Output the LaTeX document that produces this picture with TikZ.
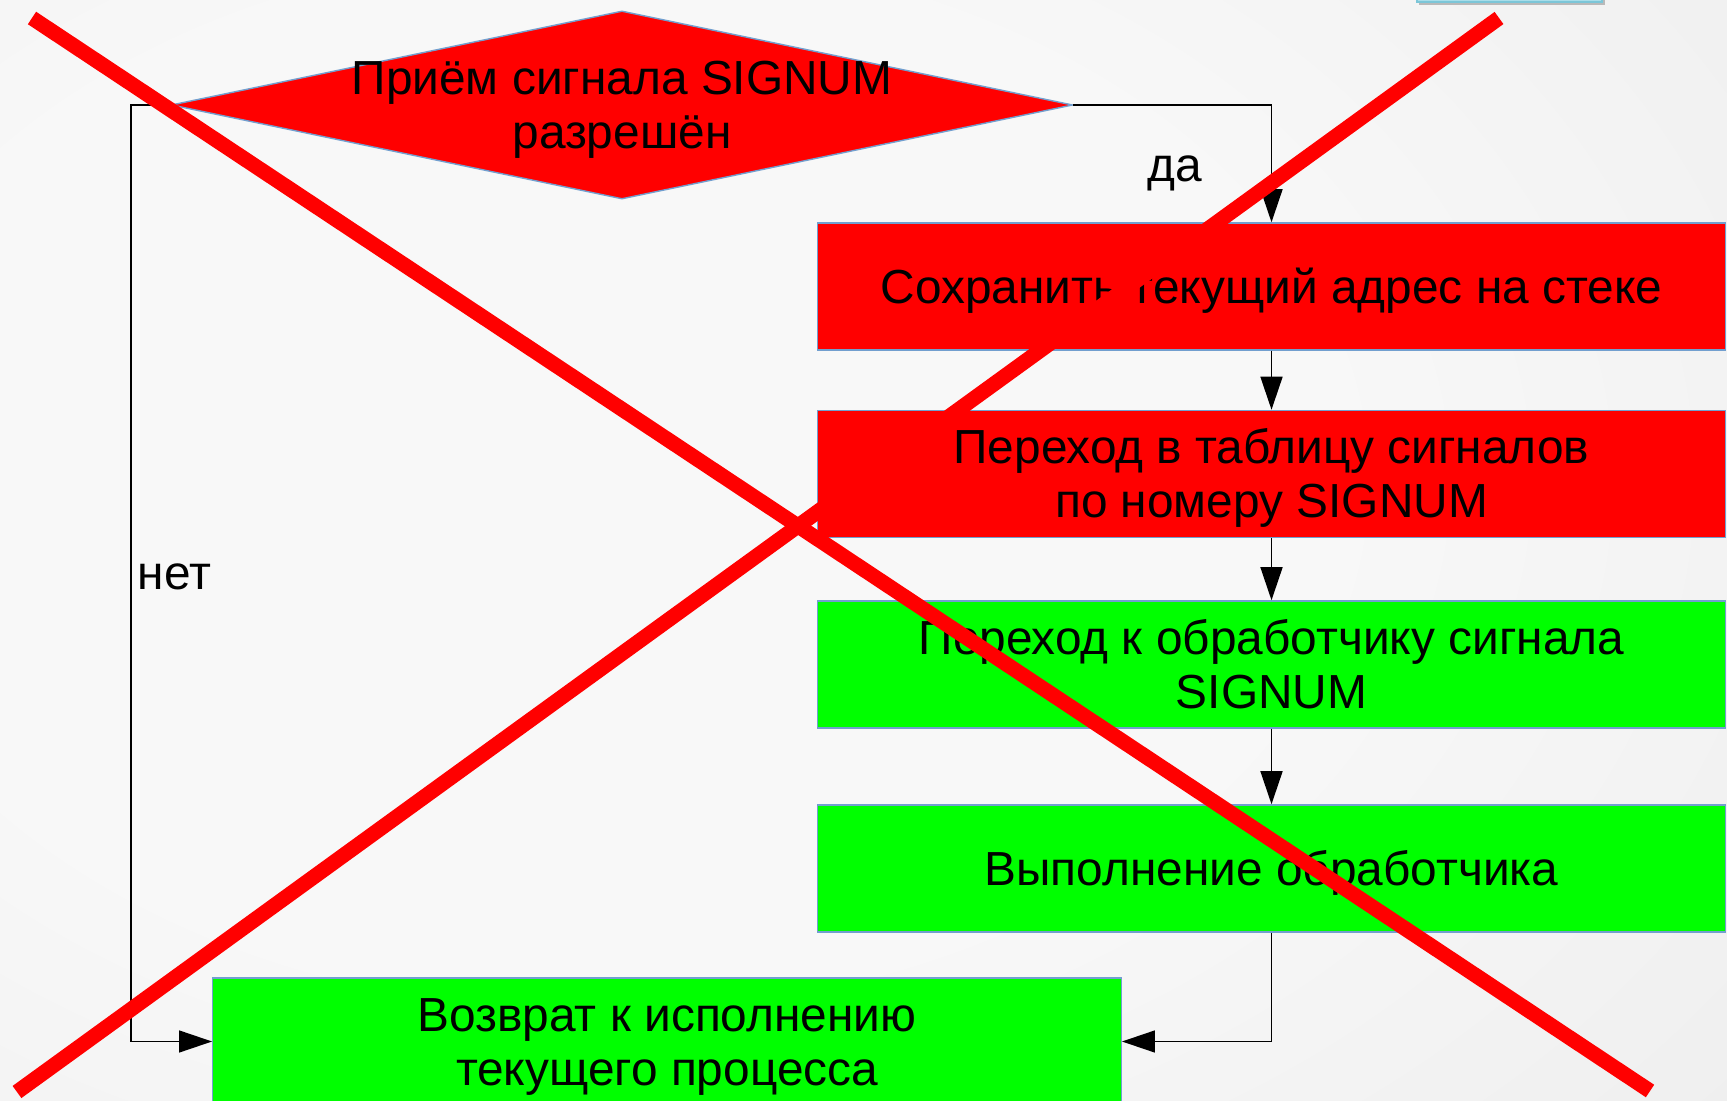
\documentclass[tikz,border=0pt]{standalone}
\usepackage{fontspec}
\setmainfont{Liberation Sans}
\usetikzlibrary{shapes.geometric,arrows.meta}
\definecolor{bgin}{HTML}{F8F8F8}
\definecolor{bgout}{HTML}{E1E1E1}
\definecolor{boxred}{HTML}{FF0000}
\definecolor{boxgreen}{HTML}{00FF00}
\definecolor{edgeblue}{HTML}{729FCF}
\definecolor{stripblue}{HTML}{A9DDE9}
\definecolor{stripedge}{HTML}{7CC6D8}
\pgfdeclareradialshading{bgshade}{\pgfpoint{0bp}{0bp}}{color(0bp)=(bgin); color(14bp)=(bgin); color(50bp)=(bgout); color(80bp)=(bgout)}
\newcommand\mytext{\fontsize{13.6pt}{15.4pt}\selectfont}
\newcommand\tstrut{\rule{0pt}{\dimexpr 0.7\baselineskip+3.4pt\relax}}
\tikzset{
  flowbox/.style={rectangle, draw=edgeblue, line width=0.4pt, minimum width=9.07cm, minimum height=1.27cm, inner sep=0pt, align=center, font=\mytext},
  decision/.style={diamond, draw=edgeblue, line width=0.4pt, fill=boxred, minimum width=9.01cm, minimum height=1.88cm, inner sep=0pt},
  conn/.style={draw=black, line width=0.4pt, -{Triangle[length=3.3mm,width=2.2mm]}},
  cross/.style={draw=boxred, line width=0.15cm, line cap=butt},
  lbl/.style={font=\mytext, inner sep=0pt}
}
\begin{document}
\begin{tikzpicture}[x=0.01cm, y=-0.01cm]
\useasboundingbox (0,0) rectangle (1727,1101);
% background
\begin{scope}
\clip (0,0) rectangle (1727,1101);
\shade[shading=bgshade] (-700,-420) rectangle (1900,1380);
% top-right strip
\fill[gray!55] (1419,-10) rectangle (1605,5);
\filldraw[fill=stripblue, draw=stripedge, line width=0.6pt] (1417,-10) rectangle (1602,2);
\end{scope}

% decision
\node[decision] (dia) at (622,105) {};
\node[lbl, align=center] (diat) at (dia.center) {\tstrut Приём сигнала SIGNUM\\разрешён\strut};

% boxes
\node[flowbox, fill=boxred]   (b1) at (1271.5,286.5) {\tstrut Сохранить текущий адрес на стеке\strut};
\node[flowbox, fill=boxred]   (b2) at (1271.5,474) {\tstrut Переход в таблицу сигналов\\по номеру SIGNUM\strut};
\node[flowbox, fill=boxgreen] (b3) at (1271.5,664.5) {\tstrut Переход к обработчику сигнала\\SIGNUM\strut};
\node[flowbox, fill=boxgreen] (b4) at (1271.5,868.5) {\tstrut Выполнение обработчика\strut};
\node[flowbox, fill=boxgreen, minimum width=9.08cm] (b5) at (667,1041.5) {\tstrut Возврат к исполнению\\текущего процесса\strut};

% connectors
\coordinate (lc) at (131,105);
\draw[conn] (dia.east) -| (b1.north);
\draw[conn] (b1.south) -- (b2.north);
\draw[conn] (b2.south) -- (b3.north);
\draw[conn] (b3.south) -- (b4.north);
\draw[conn] (b4.south) |- (b5.east);
\draw[conn] (dia.west) -- (lc) |- (b5.west);

% labels
\node[lbl, anchor=base] (yes) at (1175,182) {да};
\node[lbl, anchor=base west] (no) at (137,590) {нет};

% red cross
\draw[cross] (32,18) -- (1650,1091);
\draw[cross] (17,1092) -- (1499,18);
\end{tikzpicture}
\end{document}
